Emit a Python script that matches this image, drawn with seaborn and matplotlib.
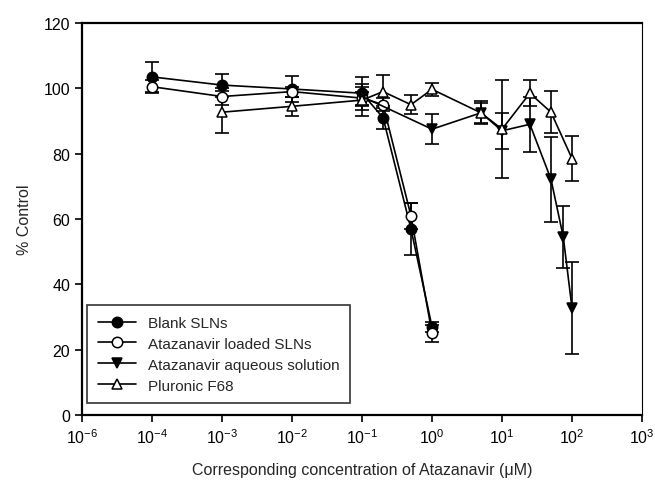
import numpy as np
import pandas as pd
import matplotlib
matplotlib.use('Agg')
import matplotlib.pyplot as plt
import seaborn as sns

# concentrations (uM) and % control
conc_sln = [1e-4, 1e-3, 1e-2, 1e-1, 0.2, 0.5, 1]
blank = [103.5, 101, 99.8, 98.5, 91, 57, 27]
blank_err = [4.5, 3.5, 4, 5, 3.5, 8, 1.5]
loaded = [100.5, 97.5, 99, 97, 95, 61, 25]
loaded_err = [2, 2.5, 1.5, 2, 2, 4, 2.5]

conc_aq = [1e-1, 1, 5, 10, 25, 50, 75, 100]
aqueous = [97.5, 87.5, 92.5, 87, 89, 72.2, 54.5, 32.7]
aqueous_err = [3, 4.5, 3.5, 5.5, 8.5, 13, 9.5, 14]

conc_plu = [1e-3, 1e-2, 1e-1, 0.2, 0.5, 1, 5, 10, 25, 50, 100]
pluronic = [92.7, 94.5, 96.4, 99, 95, 99.7, 92.5, 87.5, 98.5, 92.7, 78.5]
pluronic_err = [6.5, 3, 5, 5, 3, 2, 3, 15, 4, 6.5, 7]

tick_pos = [-5, -4, -3, -2, -1, 0, 1, 2, 3]
tick_lab = ['$10^{-6}$', '$10^{-4}$', '$10^{-3}$', '$10^{-2}$', '$10^{-1}$',
            '$10^{0}$', '$10^{1}$', '$10^{2}$', '$10^{3}$']

sns.set_style('ticks')
plt.rcParams['font.family'] = ['Liberation Sans', 'DejaVu Sans']
plt.rcParams['mathtext.fontset'] = 'custom'
plt.rcParams['mathtext.rm'] = 'Liberation Sans'
plt.rcParams['mathtext.it'] = 'Liberation Sans'

fig = plt.figure(figsize=(6.55, 4.81), dpi=100)
ax = fig.add_axes([0.1252, 0.1351, 0.855, 0.815])

series = [
    ('Blank SLNs', conc_sln, blank, blank_err, 'o', 'black'),
    ('Atazanavir loaded SLNs', conc_sln, loaded, loaded_err, 'o', 'white'),
    ('Atazanavir aqueous solution', conc_aq, aqueous, aqueous_err, 'v', 'black'),
    ('Pluronic F68', conc_plu, pluronic, pluronic_err, '^', 'white'),
]

for name, xs, ys, es, mk, fc in series:
    df = pd.DataFrame({'x': np.log10(xs), 'y': ys})
    ax.errorbar(df.x, df.y, yerr=es, fmt='none', ecolor='black',
                elinewidth=1.2, capsize=5, capthick=1.2, zorder=2)
    sns.lineplot(x='x', y='y', data=df, ax=ax, color='black', lw=1.2,
                 marker=mk, markersize=7.5, markerfacecolor=fc,
                 markeredgecolor='black', markeredgewidth=1.1,
                 label=name, zorder=3)

ax.set_xlim(-5, 3)
ax.set_ylim(0, 120)
ax.set_xticks(tick_pos)
ax.set_xticklabels(tick_lab)
ax.set_yticks(range(0, 121, 20))
ax.tick_params(direction='out', length=5, width=1.2, labelsize=11.5, colors='black')

for s in ['left', 'bottom', 'top']:
    ax.spines[s].set_linewidth(1.6)
    ax.spines[s].set_color('black')
ax.spines['right'].set_linewidth(0.8)
ax.spines['right'].set_color('black')

ax.set_xlabel('Corresponding concentration of Atazanavir (\u03bcM)', fontsize=11.5, labelpad=12)
ax.set_ylabel('% Control', fontsize=11.5, labelpad=8)

leg = ax.legend(loc='lower left', bbox_to_anchor=(0.009, 0.03), borderaxespad=0,
                fontsize=11, frameon=True, fancybox=False, edgecolor='black',
                handlelength=2.5, borderpad=0.7, labelspacing=0.45)
leg.get_frame().set_linewidth(1.2)

fig.savefig('out.png', dpi=100)
